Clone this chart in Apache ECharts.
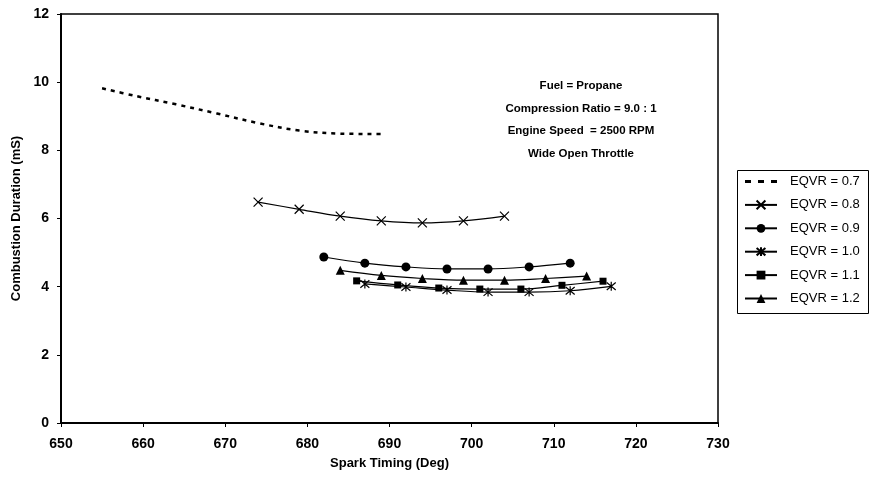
<!DOCTYPE html>
<html>
<head>
<meta charset="utf-8">
<script src="https://cdn.jsdelivr.net/npm/echarts@6/dist/echarts.min.js"></script>
<style>html,body{margin:0;padding:0;background:#fff}#c{width:874px;height:482px}</style>
</head>
<body>
<div id="c"></div>
<script>
// ---- data ----
const seriesNames = ['EQVR = 0.7','EQVR = 0.8','EQVR = 0.9','EQVR = 1.0','EQVR = 1.1','EQVR = 1.2'];
const x07 = [655, 659, 664, 669, 674, 679, 684, 689];
const y07 = [9.82, 9.6, 9.35, 9.08, 8.8, 8.58, 8.49, 8.48];
const x08 = [674, 679, 684, 689, 694, 699, 704];
const y08 = [6.48, 6.27, 6.07, 5.93, 5.87, 5.93, 6.07];
const x09 = [682, 687, 692, 697, 702, 707, 712];
const y09 = [4.87, 4.69, 4.58, 4.52, 4.52, 4.58, 4.69];
const x10 = [687, 692, 697, 702, 707, 712, 717];
const y10 = [4.08, 3.99, 3.9, 3.84, 3.84, 3.88, 4.01];
const x11 = [686, 691, 696, 701, 706, 711, 716];
const y11 = [4.17, 4.05, 3.96, 3.93, 3.93, 4.04, 4.16];
const x12 = [684, 689, 694, 699, 704, 709, 714];
const y12 = [4.48, 4.33, 4.24, 4.19, 4.19, 4.24, 4.31];
const annotationLines = ['Fuel = Propane', 'Compression Ratio = 9.0 : 1', 'Engine Speed  = 2500 RPM', 'Wide Open Throttle'];
const xTitle = 'Spark Timing (Deg)';
const yTitle = 'Combustion Duration (mS)';

const pair = (xs, ys) => xs.map((x, i) => [x, ys[i]]);
const FONT = 'Liberation Sans, Arial, sans-serif';
const crossPath = 'path://M0,0L10,10M10,0L0,10';
const starPath = 'path://M0,0L10,10M10,0L0,10M5,-1L5,11';
const dashIcon = 'path://M0,0h6v3h-6zM13,0h6v3h-6zM26,0h6v3h-6z';

function lineSeries(name, data, symbol, size, extra) {
  return Object.assign({
    name: name, type: 'line', data: data, smooth: 0.35,
    symbol: symbol, symbolSize: size,
    lineStyle: { color: '#000', width: 1.2 },
    itemStyle: { color: '#000', borderColor: '#000', borderWidth: (symbol.indexOf('path') === 0 ? 1.2 : 0) },
    emphasis: { disabled: true }, animation: false
  }, extra || {});
}

const annotationGraphics = annotationLines.map((t, i) => ({
  type: 'text', x: 581, y: 86 + i * 22.5, silent: true,
  style: { text: t, fontFamily: FONT, fontWeight: 'bold', fontSize: 11.5, fill: '#000', textAlign: 'center', textVerticalAlign: 'middle' }
}));

const chart = echarts.init(document.getElementById('c'), null, { renderer: 'canvas' });
chart.setOption({
  animation: false,
  backgroundColor: '#fff',
  grid: { left: 61, right: 156, top: 14, bottom: 59, show: true, borderColor: '#000', borderWidth: 1.5, backgroundColor: 'transparent' },
  xAxis: {
    type: 'value', min: 650, max: 730, interval: 10,
    name: xTitle, nameLocation: 'middle', nameGap: 34,
    nameTextStyle: { fontFamily: FONT, fontWeight: 'bold', fontSize: 13, color: '#000' },
    axisLine: { show: true, lineStyle: { color: '#000', width: 2 } },
    axisTick: { show: true, inside: false, length: 4, lineStyle: { color: '#000', width: 1 } },
    axisLabel: { fontFamily: FONT, fontWeight: 'bold', fontSize: 14, color: '#000', margin: 14 },
    splitLine: { show: false }
  },
  yAxis: {
    type: 'value', min: 0, max: 12, interval: 2,
    name: yTitle, nameLocation: 'middle', nameGap: 35,
    nameTextStyle: { fontFamily: FONT, fontWeight: 'bold', fontSize: 13, color: '#000' },
    axisLine: { show: true, lineStyle: { color: '#000', width: 2 } },
    axisTick: { show: true, inside: false, length: 4, lineStyle: { color: '#000', width: 1 } },
    axisLabel: { fontFamily: FONT, fontWeight: 'bold', fontSize: 14, color: '#000', margin: 12 },
    splitLine: { show: false }
  },
  legend: {
    orient: 'vertical', left: 744, top: 175, padding: 0,
    itemWidth: 32, itemHeight: 11, itemGap: 10.4,
    textStyle: { fontFamily: FONT, fontSize: 13, color: '#000', padding: [0, 0, 0, 8] },
    data: seriesNames.map((n, i) => i === 0 ? { name: n, icon: dashIcon } : { name: n })
  },
  graphic: [
    { type: 'rect', shape: { x: 737.5, y: 170.5, width: 131, height: 143 }, style: { fill: 'none', stroke: '#000', lineWidth: 1 }, silent: true }
  ].concat(annotationGraphics),
  series: [
    lineSeries(seriesNames[0], pair(x07, y07), 'none', 0, { lineStyle: { color: '#000', width: 2.5, type: [4, 5] } }),
    lineSeries(seriesNames[1], pair(x08, y08), crossPath, 9),
    lineSeries(seriesNames[2], pair(x09, y09), 'circle', 9),
    lineSeries(seriesNames[3], pair(x10, y10), starPath, 9),
    lineSeries(seriesNames[4], pair(x11, y11), 'rect', 7),
    lineSeries(seriesNames[5], pair(x12, y12), 'triangle', 9)
  ]
});
</script>
</body>
</html>
